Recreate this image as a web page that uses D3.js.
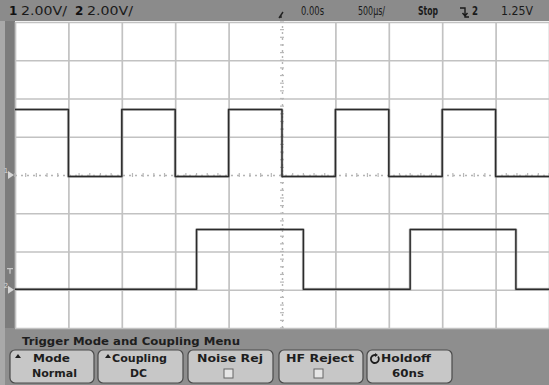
<!DOCTYPE html>
<html><head><meta charset="utf-8">
<script src="https://cdn.jsdelivr.net/npm/d3@7"></script>
<style>
html,body{margin:0;padding:0;background:#fff;}
svg{display:block;}
</style></head>
<body>
<script>
// ---- data ----
const timeDomain = [-2.5, 2.5];            // ms (500µs/div, 10 divs)
const voltDomain = [-8, 8];                // V on screen (2 V/div, 8 divs)
const timeTicks = [-2.5,-2.0,-1.5,-1.0,-0.5,0,0.5,1.0,1.5,2.0,2.5];
const voltTicks = [-8,-6,-4,-2,0,2,4,6,8];
// channel 1: toggle times (ms), start high
const ch1Edges = [-2.0,-1.5,-1.0,-0.5,0.0,0.5,1.0,1.5,2.0];
const ch1Levels = {high: 3.42, low: -0.08, startHigh: true, offset: 0};
// channel 2: toggle times (ms), start low
const ch2Edges = [-0.80, 0.20, 1.20, 2.19];
const ch2Levels = {high: 3.15, low: 0.02, startHigh: false, offset: -6};
const topLabels = [
  {t:"2.00V/", x:21, len:46},
  {t:"2.00V/", x:87, len:46},
  {t:"0.00s", x:301, len:23},
  {t:"500µs/", x:358, len:27},
  {t:"Stop", x:418, len:20},
  {t:"2", x:472, len:6},
  {t:"1.25V", x:501, len:32}
];
const menuTitle = "Trigger Mode and Coupling Menu";
const buttons = [
  {x:10, w:84, l1:"Mode", w1:37, c1:51.5, l2:"Normal", w2:45, c2:54.5, icon:"up", ix:5},
  {x:98, w:85, l1:"Coupling", w1:55, c1:139.5, l2:"DC", w2:17, c2:138.5, icon:"up", ix:7},
  {x:188, w:85, l1:"Noise Rej", w1:66, c1:230, l2:null, icon:"box", ix:224},
  {x:279, w:84, l1:"HF Reject", w1:68, c1:320, l2:null, icon:"box", ix:314},
  {x:367, w:85, l1:"Holdoff", w1:50, c1:406, l2:"60ns", w2:32, c2:408, icon:"knob", ix:375}
];

// ---- layout ----
const W=549, H=385;
const G = {left:15, right:549, top:22, bottom:328};
const svg = d3.select("body").append("svg").attr("width",W).attr("height",H);
const x = d3.scaleLinear().domain(timeDomain).range([G.left, G.right]);
const y = d3.scaleLinear().domain(voltDomain).range([G.bottom, G.top]);

// backgrounds
svg.append("rect").attr("width",W).attr("height",H).attr("fill","#8e8e8e");
svg.append("rect").attr("x",0).attr("y",0).attr("width",5).attr("height",H).attr("fill","#a9a9a9");
svg.append("rect").attr("x",5).attr("y",21).attr("width",10).attr("height",307).attr("fill","#7c7c7c");
svg.append("rect").attr("x",G.left).attr("y",21).attr("width",G.right-G.left).attr("height",G.bottom-21).attr("fill","#fff");

// grid via axes
const gridX = svg.append("g").attr("transform",`translate(0,${G.bottom})`)
  .call(d3.axisTop(x).tickValues(timeTicks).tickSize(G.bottom-G.top).tickFormat(""));
const gridY = svg.append("g").attr("transform",`translate(${G.left},0)`)
  .call(d3.axisRight(y).tickValues(voltTicks).tickSize(G.right-G.left).tickFormat(""));
[gridX,gridY].forEach(g=>{
  g.select(".domain").remove();
  g.selectAll(".tick line").attr("stroke","#c2c2c2").attr("stroke-width",1.7)
   .filter(d=>d===0).attr("stroke","#b4b4b4").attr("stroke-width",1.4).attr("stroke-dasharray","2,4");
});
// minor ticks on centre lines
const minorT = d3.range(-2.5, 2.5001, 0.1);
svg.append("g").selectAll("line").data(minorT).join("line")
  .attr("x1",d=>x(d)).attr("x2",d=>x(d)).attr("y1",y(0)-2).attr("y2",y(0)+2)
  .attr("stroke","#b8b8b8").attr("stroke-width",1.2);
const minorV = d3.range(-8, 8.001, 0.4);
svg.append("g").selectAll("line").data(minorV).join("line")
  .attr("x1",x(0)-2).attr("x2",x(0)+2).attr("y1",d=>y(d)).attr("y2",d=>y(d))
  .attr("stroke","#b8b8b8").attr("stroke-width",1.2);

// traces
function tracePoints(edges, lv){
  let hi = lv.startHigh;
  const lvl = h => (h ? lv.high : lv.low) + lv.offset;
  const pts = [[timeDomain[0], lvl(hi)]];
  edges.forEach(t=>{ pts.push([t, lvl(hi)]); hi=!hi; pts.push([t, lvl(hi)]); });
  pts.push([timeDomain[1], lvl(hi)]);
  return pts;
}
const line = d3.line().x(d=>x(d[0])).y(d=>y(d[1]));
[[ch1Edges,ch1Levels],[ch2Edges,ch2Levels]].forEach(([e,l])=>{
  svg.append("path").attr("d",line(tracePoints(e,l))).attr("fill","none")
    .attr("stroke","#9a9a9a").attr("stroke-width",3).attr("stroke-linejoin","round").attr("opacity",0.5);
  svg.append("path").attr("d",line(tracePoints(e,l))).attr("fill","none")
    .attr("stroke","#2b2b2b").attr("stroke-width",1.5).attr("stroke-linejoin","round");
});

// left ground / trigger markers
function marker(v, label){
  const yy = y(v);
  svg.append("path").attr("d",`M8,${yy-4} L14,${yy} L8,${yy+4} Z`).attr("fill","#d6d6d6");
  svg.append("text").attr("x",6).attr("y",yy-2).attr("font-family","DejaVu Sans").attr("font-size",7)
    .attr("fill","#d6d6d6").attr("text-anchor","middle").text(label);
}
marker(ch1Levels.offset, "1");
marker(ch2Levels.offset, "2");
svg.append("path").attr("d",`M7,${y(-6+1.1)} h6 M10,${y(-6+1.1)} v5`).attr("stroke","#c8c8c8").attr("stroke-width",1.3);

// top bar
svg.append("rect").attr("x",0).attr("y",0).attr("width",W).attr("height",21).attr("fill","#8b8b8b");
svg.append("text").attr("x",9).attr("y",15).attr("font-family","DejaVu Sans").attr("font-weight","bold")
  .attr("font-size",12).attr("fill","#111").text("1");
svg.append("text").attr("x",75).attr("y",15).attr("font-family","DejaVu Sans").attr("font-weight","bold")
  .attr("font-size",12).attr("fill","#111").text("2");
svg.selectAll("text.top").data(topLabels).join("text").attr("class","top")
  .attr("x",d=>d.x).attr("y",15).attr("font-family","DejaVu Sans").attr("font-size",11.5)
  .attr("fill","#1a1a1a").attr("textLength",d=>d.len).attr("lengthAdjust","spacingAndGlyphs")
  .attr("font-weight",d=>(d.t==="2"||d.t==="Stop")?"bold":"normal").text(d=>d.t);
// trigger position marker
svg.append("path").attr("d",`M${x(0)-3},18 L${x(0)+1},12 M${x(0)-1},18 v-3`).attr("stroke","#222").attr("stroke-width",1.4).attr("fill","none");
// falling-edge trigger symbol
svg.append("path").attr("d","M460,8 h5 v9 h4 M462.5,13 l2.5,3 l2.5,-3").attr("stroke","#1a1a1a").attr("stroke-width",1.4).attr("fill","none");

// bottom menu
svg.append("text").attr("x",22).attr("y",345).attr("font-family","DejaVu Sans").attr("font-weight","bold")
  .attr("font-size",11).attr("fill","#1e1e1e").attr("textLength",218).attr("lengthAdjust","spacingAndGlyphs").text(menuTitle);
const bg = svg.selectAll("g.btn").data(buttons).join("g").attr("class","btn");
bg.append("rect").attr("x",d=>d.x).attr("y",350).attr("width",d=>d.w).attr("height",33).attr("rx",5)
  .attr("fill","#c7c7c7").attr("stroke","#4a4a4a").attr("stroke-width",1.2);
bg.append("text").attr("x",d=>d.c1).attr("y",362).attr("text-anchor","middle")
  .attr("textLength",d=>d.w1).attr("lengthAdjust","spacingAndGlyphs")
  .attr("font-family","DejaVu Sans").attr("font-weight","bold").attr("font-size",10.5).attr("fill","#1e1e1e").text(d=>d.l1);
bg.filter(d=>d.l2).append("text").attr("x",d=>d.c2).attr("y",377).attr("text-anchor","middle")
  .attr("textLength",d=>d.w2).attr("lengthAdjust","spacingAndGlyphs")
  .attr("font-family","DejaVu Sans").attr("font-weight","bold").attr("font-size",10.5).attr("fill","#1e1e1e").text(d=>d.l2);
bg.filter(d=>d.icon==="up").append("path").attr("d",d=>`M${d.x+d.ix},358 l3,-4 l3,4 Z`).attr("fill","#1e1e1e");
bg.filter(d=>d.icon==="box").append("rect").attr("x",d=>d.ix).attr("y",369).attr("width",9).attr("height",9)
  .attr("fill","#e6e6e6").attr("stroke","#666").attr("stroke-width",1);
bg.filter(d=>d.icon==="knob").append("path").attr("d",d=>`M${d.ix},355 a4,4 0 1,0 3,1.5`).attr("fill","none")
  .attr("stroke","#1e1e1e").attr("stroke-width",1.8);
bg.filter(d=>d.icon==="knob").append("path").attr("d",d=>`M${d.ix},353 l3,2 l-3,2 Z`).attr("fill","#1e1e1e");
</script>
</body></html>
